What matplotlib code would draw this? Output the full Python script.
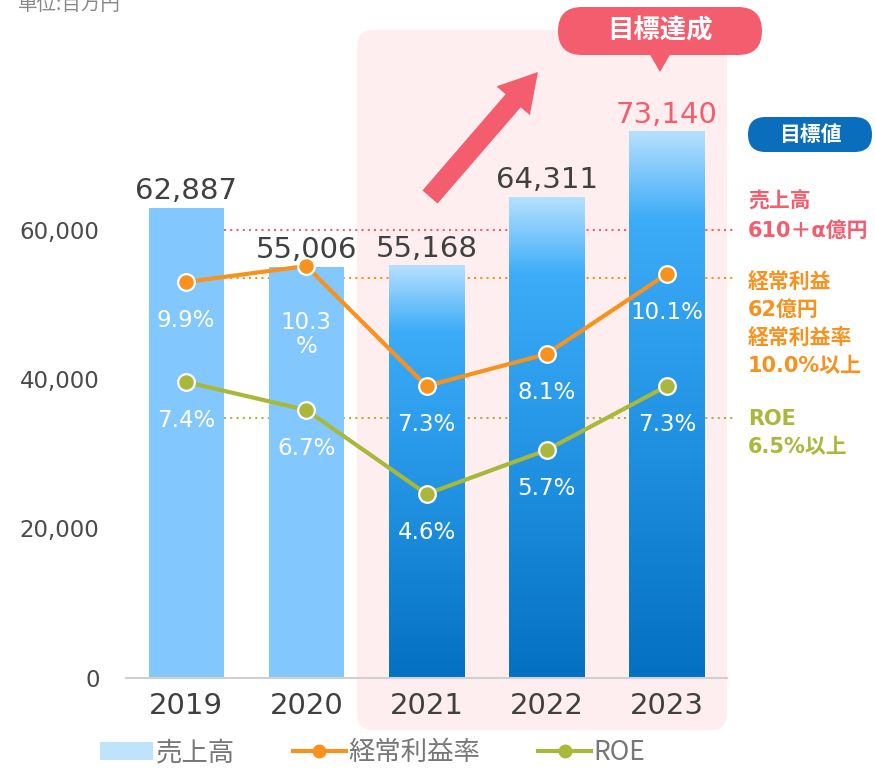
"""売上高・経常利益率・ROE の推移 (2019-2023)"""
import matplotlib
matplotlib.use('Agg')
import matplotlib.pyplot as plt
from matplotlib.colors import LinearSegmentedColormap
from matplotlib.patches import FancyBboxPatch, FancyArrow, Polygon, Patch
from matplotlib.lines import Line2D
import numpy as np

plt.rcParams['font.family'] = ['DejaVu Sans', 'Noto Sans CJK JP']
JP = ['Noto Sans CJK JP', 'DejaVu Sans']

# data
YEARS = ["2019", "2020", "2021", "2022", "2023"]
SALES = [62887, 55006, 55168, 64311, 73140]
SALES_LABELS = ["62,887", "55,006", "55,168", "64,311", "73,140"]
MARGIN = [9.9, 10.3, 7.3, 8.1, 10.1]
MARGIN_LABELS = ["9.9%", "10.3\n%", "7.3%", "8.1%", "10.1%"]
ROE = [7.4, 6.7, 4.6, 5.7, 7.3]
ROE_LABELS = ["7.4%", "6.7%", "4.6%", "5.7%", "7.3%"]
HIGHLIGHT = [False, False, True, True, True]
Y_TICKS = [0, 20000, 40000, 60000]

SALES_TARGET = 60000
MARGIN_TARGET = 10.0
ROE_TARGET = 6.5

PINK = '#F45D6E'
ORANGE = '#F7921E'
OLIVE = '#A9B73A'
LIGHT_BLUE = '#82C8FE'
NAVY = '#0A6EBD'
DARK = '#404040'

W, H = 875, 769
fig = plt.figure(figsize=(W / 100, H / 100), dpi=100)

# pixel-space background layer
bg = fig.add_axes([0, 0, 1, 1], zorder=0)
bg.set_xlim(0, W)
bg.set_ylim(H, 0)
bg.axis('off')

bg.add_patch(FancyBboxPatch((357, 30), 370, 700, boxstyle='round,pad=0,rounding_size=16',
                            fc='#FFEEF0', ec='none', zorder=1))
bg.add_patch(FancyArrow(430, 197, 108, -125, width=20, head_width=44, head_length=38,
                        length_includes_head=True, fc=PINK, ec='none', zorder=3))
bg.add_patch(FancyBboxPatch((558, 7), 204, 48, boxstyle='round,pad=0,rounding_size=24',
                            fc=PINK, ec='none', zorder=3))
bg.add_patch(Polygon([(649, 53), (671, 53), (660, 72)], closed=True, fc=PINK, ec='none', zorder=3))
bg.text(660, 31, "目標達成", color='white', fontsize=19, fontweight='bold', family=JP,
        ha='center', va='center', zorder=4)

bg.add_patch(FancyBboxPatch((748, 117), 124, 35, boxstyle='round,pad=0,rounding_size=17.5',
                            fc=NAVY, ec='none', zorder=3))
bg.text(810, 134.5, "目標値", color='white', fontsize=15, fontweight='bold', family=JP,
        ha='center', va='center', zorder=4)

target_lines = [
    ("売上高", 202, PINK), ("610＋α億円", 231, PINK),
    ("経常利益", 283, ORANGE), ("62億円", 310, ORANGE),
    ("経常利益率", 338, ORANGE), ("10.0%以上", 366, ORANGE),
    ("ROE", 419, OLIVE), ("6.5%以上", 447, OLIVE),
]
for txt, yy, col in target_lines:
    bg.text(748, yy, txt, color=col, fontsize=15, fontweight='bold', ha='left', va='center')

bg.text(18, 4, "単位:百万円", color='#888888', fontsize=14, family=JP, ha='left', va='center')

# main chart
YMAX = 88000
ax = fig.add_axes([126 / W, (H - 678) / H, 601 / W, 657.8 / H], zorder=1)
ax.patch.set_alpha(0)
x = np.arange(len(YEARS))
width = 0.625

bars = ax.bar(x, SALES, width, color=LIGHT_BLUE, zorder=2)
grad = LinearSegmentedColormap.from_list(
    'bar', [(0.0, '#0470C1'), (0.5, '#2596E6'), (0.84, '#3CACF8'), (1.0, '#B5E0FD')])
for bar, hl in zip(bars, HIGHLIGHT):
    if hl:
        bar.set_facecolor('none')
        ax.imshow(np.linspace(0, 1, 256).reshape(-1, 1), cmap=grad, origin='lower', aspect='auto',
                  extent=[bar.get_x(), bar.get_x() + bar.get_width(), 0, bar.get_height()], zorder=2)

for xi, s, lbl in zip(x, SALES, SALES_LABELS):
    col = PINK if s == max(SALES) else DARK
    ax.annotate(lbl, (xi, s), xytext=(0, 2), textcoords='offset points', ha='center',
                va='bottom', fontsize=21, color=col, zorder=5)

ax.set_xlim(-0.5, 4.5)
ax.set_ylim(0, YMAX)
ax.set_xticks(x, YEARS, fontsize=21, color=DARK)
ax.set_yticks(Y_TICKS, [f"{v:,}" for v in Y_TICKS], fontsize=16.5, color='#4A4A4A')
ax.tick_params(axis='both', length=0)
ax.tick_params(axis='x', pad=10)
ax.tick_params(axis='y', pad=19)
for side in ['left', 'right', 'top']:
    ax.spines[side].set_visible(False)
ax.spines['bottom'].set_color('#D0D0D0')
ax.spines['bottom'].set_linewidth(1.5)

# ratio axis (hidden), 40 px per %
ax2 = ax.twinx()
ax2.set_ylim(0, 657.8 / 40)
ax2.axis('off')

x0, x1 = width / 2, 4.575
ax.plot([x0, x1], [SALES_TARGET] * 2, color=PINK, lw=1.5, dashes=(1, 2), zorder=1, clip_on=False)
ax.plot([x0, x1], [MARGIN_TARGET] * 2, color=ORANGE, lw=1.5, dashes=(1, 2), zorder=1,
        clip_on=False, transform=ax2.transData)
ax.plot([x0, x1], [ROE_TARGET] * 2, color=OLIVE, lw=1.5, dashes=(1, 2), zorder=1,
        clip_on=False, transform=ax2.transData)

for vals, labels, col in [(MARGIN, MARGIN_LABELS, ORANGE), (ROE, ROE_LABELS, OLIVE)]:
    ax2.plot(x, vals, color=col, lw=3, marker='o', ms=12, mfc=col, mec='white', mew=1.6, zorder=3)
    for xi, v, lbl in zip(x, vals, labels):
        n = lbl.count('\n')
        ax2.annotate(lbl, (xi, v), xytext=(0, -28 - 21 * n), textcoords='offset points',
                     ha='center', va='center', fontsize=16.5, color='white', linespacing=1.05, zorder=4)

handles = [Patch(fc='#BEE3FA', ec='none'),
           Line2D([], [], color=ORANGE, lw=3, marker='o', ms=9),
           Line2D([], [], color=OLIVE, lw=3, marker='o', ms=9)]
fig.legend(handles, ["売上高", "経常利益率", "ROE"], loc='center', bbox_to_anchor=(0.426, 0.021),
           ncol=3, frameon=False, prop={'family': JP, 'size': 19}, labelcolor='#777777',
           handlelength=2.0, handletextpad=0.1, columnspacing=2.2)

fig.savefig('out.png', dpi=100)
